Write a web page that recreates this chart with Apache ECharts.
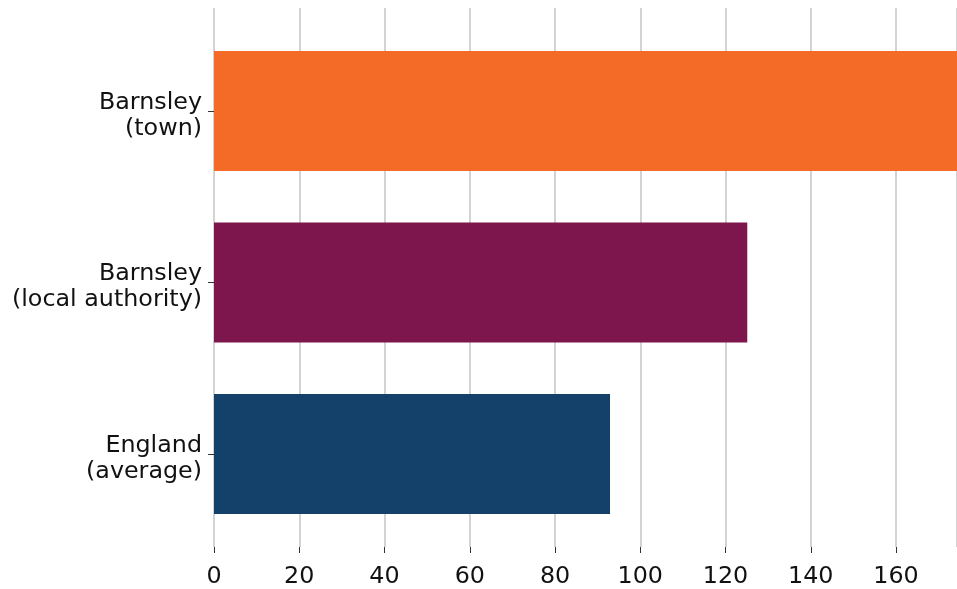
<!DOCTYPE html>
<html>
<head>
<meta charset="utf-8">
<script src="https://cdn.jsdelivr.net/npm/echarts@6/dist/echarts.min.js"></script>
<style>html,body{margin:0;padding:0;background:#fff}#c{width:957px;height:589px}</style>
</head>
<body>
<div id="c"></div>
<script>
var categories = ['Barnsley\n(town)', 'Barnsley\n(local authority)', 'England\n(average)'];
var values = [180, 125.1, 92.9];
var barColors = ['#F36B26', '#7D164C', '#134169'];
var xTicks = [0, 20, 40, 60, 80, 100, 120, 140, 160];
var xMin = 0, xMax = 174.3, xStep = 20;

var chart = echarts.init(document.getElementById('c'));
var font = 'DejaVu Sans';
chart.setOption({
  animation: false,
  backgroundColor: '#fff',
  grid: [
    {left: 214, right: 0, top: 25.25, bottom: 49.25},
    {left: 214, right: 0, top: 8, bottom: 34},
    {left: 214, right: 0, top: 29.75, bottom: 44.75}
  ],
  xAxis: [
    {gridIndex: 0, type: 'value', min: xMin, max: xMax, show: false},
    {gridIndex: 1, type: 'value', min: xMin, max: xMax, interval: xStep,
     axisLine: {show: false},
     axisTick: {show: true, length: 6, lineStyle: {color: '#333', width: 1}},
     splitLine: {show: true, lineStyle: {color: '#c4c4c4', width: 1.5}},
     axisLabel: {show: true, margin: 18, color: '#111', fontFamily: font, fontSize: 23.8,
       showMaxLabel: false,
       formatter: function (v) { return xTicks.indexOf(v) >= 0 ? String(v) : ''; }}
    },
    {gridIndex: 2, type: 'value', min: xMin, max: xMax, show: false}
  ],
  yAxis: [
    {gridIndex: 0, type: 'category', data: categories, inverse: true,
     axisLine: {show: false},
     axisTick: {show: true, length: 6, alignWithLabel: true, lineStyle: {color: '#333', width: 1}},
     axisLabel: {show: false},
     splitLine: {show: false}
    },
    {gridIndex: 1, type: 'value', min: 0, max: 1, show: false},
    {gridIndex: 2, type: 'category', data: categories, inverse: true,
     axisLine: {show: false}, axisTick: {show: false}, splitLine: {show: false},
     axisLabel: {margin: 12, color: '#111', fontFamily: font, fontSize: 23.8, lineHeight: 26, align: 'right'}
    }
  ],
  series: [
    {type: 'bar', xAxisIndex: 0, yAxisIndex: 0, barWidth: 120, clip: true,
     data: values.map(function (v, i) { return {value: v, itemStyle: {color: barColors[i]}}; })
    }
  ]
});
</script>
</body>
</html>
